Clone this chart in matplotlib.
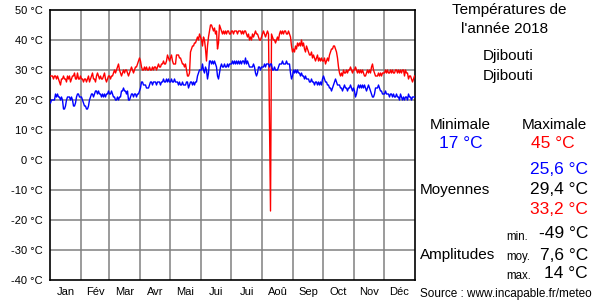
import matplotlib
matplotlib.use("Agg")
import matplotlib.pyplot as plt
import numpy as np

plt.rcParams['font.family'] = ['Liberation Sans', 'DejaVu Sans']

month_labels = ["Jan", "Fév", "Mar", "Avr", "Mai", "Jui", "Jui", "Aoû", "Sep", "Oct", "Nov", "Déc"]
month_days = [31, 28, 31, 30, 31, 30, 31, 31, 30, 31, 30, 31]

tmax_months = [
    [28,28,28,27,28,28,27,28,27,26,25,27,27,28,27,27,26,28,27,28,26,27,28,28,29,27,27,29,27,27,28],
    [27,27,26,27,27,26,27,28,26,27,28,29,27,27,26,28,29,28,27,28,27,27,28,29,27,26,27,28],
    [28,27,28,28,29,30,29,30,31,32,30,29,28,29,30,29,30,30,29,28,29,30,31,30,29,30,31,31,32,33,34],
    [33,31,30,30,31,30,31,30,30,31,30,30,31,30,31,31,30,31,32,31,31,32,32,33,32,32,33,35,34,33],
    [34,35,33,32,32,32,35,35,35,34,34,33,32,32,31,32,30,28,28,29,36,37,38,38,39,39,40,41,40,42,41],
    [40,38,41,40,37,33,38,41,43,45,45,44,43,44,42,43,37,39,45,44,43,42,43,42,43,42,43,43,42,42],
    [43,43,42,43,43,43,42,43,43,43,42,43,42,43,43,42,41,42,40,41,40,42,41,42,43,42,42,41,40,40,41],
    [42,43,42,41,42,43,42,13,-17,42,41,40,40,39,40,41,40,42,43,42,43,42,43,43,42,42,43,42,41,38,36],
    [37,36,38,37,39,38,39,38,40,38,39,37,36,38,37,36,35,35,36,34,35,34,33,34,35,33,34,33,34,33],
    [33,34,32,33,34,33,35,36,37,37,38,38,37,36,34,31,29,28,29,28,30,29,29,30,29,30,30,31,30,29,30],
    [30,31,30,29,30,29,30,29,30,29,28,28,29,30,29,30,29,31,32,30,29,28,28,28,29,28,29,28,29,29],
    [29,30,29,30,29,29,30,29,30,29,29,30,30,29,30,29,30,29,30,30,28,30,29,29,27,28,28,27,26,27,28],
]

tmin_months = [
    [19,20,20,20,20,22,21,22,21,21,20,21,20,17,17,18,20,21,21,21,20,21,20,18,18,19,21,22,22,21,21],
    [21,20,19,18,18,17,17,18,20,21,22,22,21,22,23,23,22,23,22,22,21,22,21,22,21,22,22,23],
    [22,22,23,22,21,21,20,20,21,20,21,21,23,23,24,23,23,22,23,20,20,21,22,22,21,22,22,21,22,22,23],
    [24,26,26,25,25,25,24,24,24,25,26,26,25,26,26,26,25,26,26,26,25,26,26,27,26,26,27,26,27,26],
    [26,27,26,26,27,26,26,26,25,26,25,25,26,25,25,25,26,26,24,25,26,26,25,26,25,26,26,28,29,30,30],
    [30,32,30,29,31,30,27,29,33,33,32,33,32,33,32,31,28,27,29,31,32,31,31,32,31,31,32,31,32,32],
    [32,33,32,33,32,33,32,33,32,33,32,33,33,32,34,32,33,32,31,31,31,31,32,31,29,28,29,31,31,30,31],
    [31,31,32,31,32,32,32,31,32,32,30,30,31,30,30,30,31,32,32,32,33,32,32,32,33,32,32,32,29,27,28],
    [30,29,30,29,30,29,29,28,29,28,28,27,28,27,27,27,26,26,27,26,26,25,26,26,25,26,25,26,25,27],
    [28,27,26,26,25,25,24,24,23,24,25,26,27,26,25,25,25,24,24,23,24,25,24,24,23,24,24,25,24,23,24],
    [23,21,22,24,25,24,25,24,25,24,25,24,23,24,25,24,23,22,21,21,22,24,24,24,25,24,23,23,22,22],
    [22,23,22,22,22,21,22,22,21,22,21,21,22,21,21,20,22,21,20,21,20,21,21,20,22,21,21,20,21,21,21],
]

y_ticks = [50, 40, 30, 20, 10, 0, -10, -20, -30, -40]

title_lines = ["Températures de", "l'année 2018"]
place_lines = ["Djibouti", "Djibouti"]
min_label, max_label = "Minimale", "Maximale"
min_value, max_value = "17 °C", "45 °C"
mean_values = ["25,6 °C", "29,4 °C", "33,2 °C"]
amp_labels = ["min.", "moy.", "max."]
amp_values = ["-49 °C", "7,6 °C", "14 °C"]
source = "Source : www.incapable.fr/meteo"

tmax = np.concatenate([np.array(m, dtype=float) for m in tmax_months])
tmin = np.concatenate([np.array(m, dtype=float) for m in tmin_months])
days = np.arange(len(tmax)) + 0.5
starts = np.concatenate([[0], np.cumsum(month_days)])
centers = (starts[:-1] + starts[1:]) / 2

W, H = 600, 300
fig = plt.figure(figsize=(6, 3), dpi=100)
ax = fig.add_axes([50/W, 1 - 280/H, 365/W, 270/H])
ax.set_xlim(0, 365)
ax.set_ylim(-40, 50)

for s in starts[1:-1]:
    ax.axvline(s, color='#808080', lw=1.1, zorder=1)
for t in y_ticks[1:-1]:
    ax.axhline(t, color='#808080', lw=1.1, zorder=1)

ax.plot(days, tmax, color='#ff0000', lw=1.0, zorder=3)
ax.plot(days, tmin, color='#0000ff', lw=1.0, zorder=3)

ax.set_yticks(y_ticks)
ax.set_yticklabels([f"{t} °C" for t in y_ticks], fontsize=8)
ax.set_xticks(centers)
ax.set_xticklabels(month_labels, fontsize=8)
ax.tick_params(length=0, pad=5)
for sp in ax.spines.values():
    sp.set_color('black')
    sp.set_linewidth(1.2)

def ft(x, y, s, **kw):
    fig.text(x / W, 1 - y / H, s, **kw)

ft(509, 10, title_lines[0], ha='center', va='center', fontsize=11)
ft(505, 29, title_lines[1], ha='center', va='center', fontsize=11)
ft(508, 56, place_lines[0], ha='center', va='center', fontsize=11)
ft(508, 76, place_lines[1], ha='center', va='center', fontsize=11)
ft(460, 125, min_label, ha='center', va='center', fontsize=11)
ft(554, 125, max_label, ha='center', va='center', fontsize=11)
ft(461, 143, min_value, ha='center', va='center', fontsize=12.5, color='#0000ff')
ft(553, 143, max_value, ha='center', va='center', fontsize=12.5, color='#ff0000')
for v, yy, c in zip(mean_values, [169, 189, 209], ['#0000ff', 'black', '#ff0000']):
    ft(588, yy, v, ha='right', va='center', fontsize=12.5, color=c)
ft(420, 190, "Moyennes", ha='left', va='center', fontsize=11)
for lab, v, yl, yv in zip(amp_labels, amp_values, [237, 257, 276], [234, 255, 274]):
    ft(506, yl, lab, ha='left', va='center', fontsize=8.3)
    ft(588, yv, v, ha='right', va='center', fontsize=12.5)
ft(420, 255, "Amplitudes", ha='left', va='center', fontsize=11)
ft(420, 294, source, ha='left', va='center', fontsize=8.5)

fig.savefig("out.png", dpi=100)
